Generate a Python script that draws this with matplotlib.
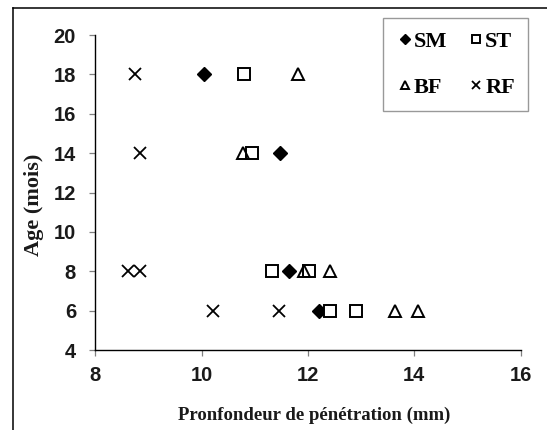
import numpy as np
from matplotlib import pyplot as plt
from matplotlib.lines import Line2D

# Penetration depth (mm) and age (months) for each group
sm_depth = [10.04, 11.47, 11.65, 12.20]
sm_age = [18, 14, 8, 6]

st_depth = [10.80, 10.94, 11.33, 12.01, 12.42, 12.91]
st_age = [18, 14, 8, 8, 6, 6]

bf_depth = [11.82, 10.77, 11.92, 12.41, 13.64, 14.07]
bf_age = [18, 14, 8, 8, 6, 6]

rf_depth = [8.74, 8.85, 8.62, 8.85, 10.22, 11.46]
rf_age = [18, 14, 8, 8, 6, 6]

x_ticks = [8, 10, 12, 14, 16]
y_ticks = [4, 6, 8, 10, 12, 14, 16, 18, 20]

serif = 'Liberation Serif'
sans = 'Liberation Sans'


def main():
    fig = plt.figure(figsize=(5.47, 4.30), dpi=100)
    ax = fig.add_axes([0.1742, 0.186, 0.9519 - 0.1742, 0.9186 - 0.186])

    h_sm, = ax.plot(sm_depth, sm_age, linestyle='none', marker='D', ms=7.3,
                    mfc='black', mec='black', mew=1.0, label='SM')
    h_st, = ax.plot(st_depth, st_age, linestyle='none', marker='s', ms=8.6,
                    mfc='white', mec='black', mew=1.4, label='ST')
    h_bf, = ax.plot(bf_depth, bf_age, linestyle='none', marker='^', ms=8.8,
                    mfc='none', mec='black', mew=1.4, label='BF')
    h_rf, = ax.plot(rf_depth, rf_age, linestyle='none', marker='x', ms=8.5,
                    mec='black', mew=1.3, label='RF')

    ax.set_xlim(8, 16)
    ax.set_ylim(4, 20)
    ax.set_xticks(x_ticks)
    ax.set_yticks(y_ticks)

    for s in ['top', 'right']:
        ax.spines[s].set_visible(False)
    for s in ['left', 'bottom']:
        ax.spines[s].set_linewidth(1.0)
        ax.spines[s].set_color('black')

    ax.tick_params(direction='out', length=4.3, width=0.9, color='#808080')
    ax.tick_params(axis='x', pad=7.5)
    ax.tick_params(axis='y', pad=9.5)
    for lab in ax.get_xticklabels() + ax.get_yticklabels():
        lab.set_fontfamily(sans)
        lab.set_fontweight('bold')
        lab.set_fontsize(14.5)
        lab.set_color('#1a1a1a')

    ax.set_xlabel('Pronfondeur de pénétration (mm)', fontfamily=serif,
                  fontweight='bold', fontsize=13.5, color='#1a1a1a')
    ax.set_ylabel('Age (mois)', fontfamily=serif, fontweight='bold',
                  fontsize=16, color='#1a1a1a')
    ax.xaxis.set_label_coords(0.515, -0.2086)
    ax.xaxis.label.set_va('center')
    ax.yaxis.set_label_coords(-0.144, 0.46)
    ax.yaxis.label.set_va('center')

    # matplotlib fills legend columns first: order so rows read SM ST / BF RF
    leg = ax.legend([h_sm, h_bf, h_st, h_rf], ['SM', 'BF', 'ST', 'RF'],
                    ncol=2, loc='upper left',
                    bbox_to_anchor=(383 / 547, 1 - 18 / 430),
                    bbox_transform=fig.transFigure,
                    prop={'family': serif, 'weight': 'bold', 'size': 16},
                    markerscale=0.65, handlelength=0.8, handletextpad=0.0,
                    columnspacing=0.9, labelspacing=1.15, borderpad=0.6,
                    borderaxespad=0, fancybox=False, frameon=True)
    leg.get_frame().set_edgecolor('#808080')
    leg.get_frame().set_linewidth(1.0)

    # outer frame lines (left and top)
    fig.add_artist(Line2D([13 / 547, 13 / 547], [0, 1 - 8 / 430],
                          transform=fig.transFigure, color='black', lw=1.1))
    fig.add_artist(Line2D([13 / 547, 1], [1 - 8 / 430, 1 - 8 / 430],
                          transform=fig.transFigure, color='black', lw=1.1))

    fig.savefig('out.png', dpi=100)
    return 0


if __name__ == "__main__":
    main()
